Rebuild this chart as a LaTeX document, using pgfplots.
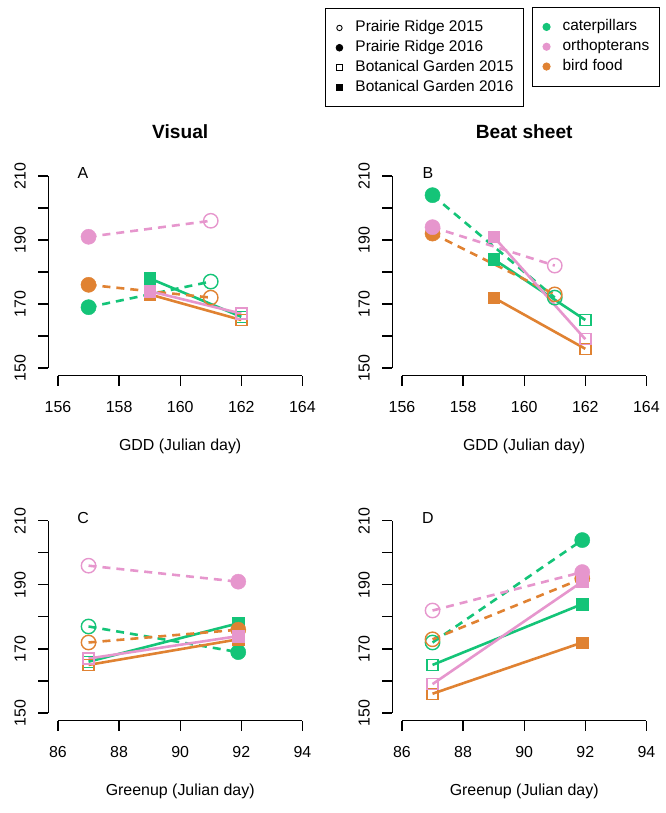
\documentclass[border=0pt]{standalone}
\usepackage{pgfplots}
\pgfplotsset{compat=1.18}
\usepackage{fontspec}
\setmainfont{Liberation Sans}
\definecolor{cat}{RGB}{20,196,120}
\definecolor{orth}{RGB}{230,150,205}
\definecolor{bird}{RGB}{224,130,50}

\newcommand{\fs}{\fontsize{16}{19}\selectfont}
\newcommand{\seg}[8]{%
  \addplot[#1, #2, line width=2.6bp, forget plot] coordinates {(#3,#4) (#6,#7)};
  \addplot[#1, only marks, #5, forget plot] coordinates {(#3,#4)};
  \addplot[#1, only marks, #8, forget plot] coordinates {(#6,#7)};
}

\pgfplotsset{
  mydash/.style={dash pattern=on 8bp off 6bp},
  pr16/.style={mark=*, mark size=7.6bp},
  pr15/.style={mark=o, mark size=7.2bp, mark options={line width=1.4bp}},
  bg16/.style={mark=square*, mark size=5.8bp},
  bg15/.style={mark=square, mark size=5.5bp, mark options={line width=1.4bp}},
  panel/.style={scale only axis, width=264bp, height=207.4bp, anchor=south west, clip=false,
    axis lines*=left, x axis line style={draw=none}, y axis line style={draw=none},
    ymin=147.6, ymax=212.4, ytick={150,160,...,210}, yticklabels={150,,170,,190,,210},
    tick align=outside, major tick length=10bp, tick style={black, line width=1.2bp},
    /pgf/number format/assume math mode=true,
    ticklabel style={font=\fs},
    yticklabel style={anchor=center, xshift=-18bp, rotate=90},
    xticklabel style={anchor=center, yshift=-21bp},
  },
  gdd/.style={xmin=155.68, xmax=164.32, xtick={156,158,...,164}},
  grn/.style={xmin=85.68, xmax=94.32, xtick={86,88,...,94}},
  leg/.style={hide axis, scale only axis, width=1bp, height=1bp, xmin=0, xmax=1, ymin=0, ymax=1,
    anchor=north west, legend cell align=left,
    legend style={at={(0,1)}, anchor=north west, draw=black, line width=0.9bp,
      inner xsep=10.5bp, inner ysep=12.5bp, row sep=5.8bp,
      font=\fontsize{15.5}{18}\selectfont,
      nodes={inner sep=0pt, text height=11bp, text depth=3bp}},
    legend image code/.code={\path[draw=none] (-3.5bp,0) -- (16bp,0); \draw[##1] plot coordinates {(0bp,0bp)};},
  },
}

\begin{document}
\begin{tikzpicture}
\path[use as bounding box] (0,0) rectangle (666bp,813bp);

% ---------- Panel A ----------
\begin{axis}[panel, gdd, at={(48.2bp,437.3bp)}]
\draw[line width=1.2bp] (axis cs:156,147.6) -- (axis cs:164,147.6);
\draw[line width=1.2bp] (axis cs:155.68,150) -- (axis cs:155.68,210);
\seg{cat}{mydash}{157}{169}{pr16}{161}{177}{pr15}
\seg{cat}{solid}{159}{178}{bg16}{162}{166}{bg15}
\seg{bird}{mydash}{157}{176}{pr16}{161}{172}{pr15}
\seg{bird}{solid}{159}{173}{bg16}{162}{165}{bg15}
\seg{orth}{mydash}{157}{191}{pr16}{161}{196}{pr15}
\seg{orth}{solid}{159}{174}{bg16}{162}{167}{bg15}
\node[font=\fs] at (axis cs:156.82,211) {A};
\node[font=\bfseries\fontsize{19.2}{23}\selectfont, yshift=36.3bp] at (rel axis cs:0.5,1) {Visual};
\node[font=\fs, yshift=-71bp] at (rel axis cs:0.5,0) {GDD (Julian day)};
\end{axis}

% ---------- Panel B ----------
\begin{axis}[panel, gdd, at={(392.2bp,437.3bp)}]
\draw[line width=1.2bp] (axis cs:156,147.6) -- (axis cs:164,147.6);
\draw[line width=1.2bp] (axis cs:155.68,150) -- (axis cs:155.68,210);
\seg{cat}{mydash}{157}{204}{pr16}{161}{172}{pr15}
\seg{cat}{solid}{159}{184}{bg16}{162}{165}{bg15}
\seg{bird}{mydash}{157}{192}{pr16}{161}{173}{pr15}
\seg{bird}{solid}{159}{172}{bg16}{162}{156}{bg15}
\seg{orth}{mydash}{157}{194}{pr16}{161}{182}{pr15}
\seg{orth}{solid}{159}{191}{bg16}{162}{159}{bg15}
\node[font=\fs] at (axis cs:156.85,211) {B};
\node[font=\bfseries\fontsize{19.2}{23}\selectfont, yshift=36.3bp] at (rel axis cs:0.5,1) {Beat sheet};
\node[font=\fs, yshift=-71bp] at (rel axis cs:0.5,0) {GDD (Julian day)};
\end{axis}

% ---------- Panel C ----------
\begin{axis}[panel, grn, at={(48.2bp,92.4bp)}]
\draw[line width=1.2bp] (axis cs:86,147.6) -- (axis cs:94,147.6);
\draw[line width=1.2bp] (axis cs:85.68,150) -- (axis cs:85.68,210);
\seg{cat}{mydash}{87}{177}{pr15}{91.9}{169}{pr16}
\seg{cat}{solid}{87}{166}{bg15}{91.9}{178}{bg16}
\seg{bird}{mydash}{87}{172}{pr15}{91.9}{176}{pr16}
\seg{bird}{solid}{87}{165}{bg15}{91.9}{173}{bg16}
\seg{orth}{mydash}{87}{196}{pr15}{91.9}{191}{pr16}
\seg{orth}{solid}{87}{167}{bg15}{91.9}{174}{bg16}
\node[font=\fs] at (axis cs:86.82,211) {C};
\node[font=\fs, yshift=-71bp] at (rel axis cs:0.5,0) {Greenup (Julian day)};
\end{axis}

% ---------- Panel D ----------
\begin{axis}[panel, grn, at={(392.2bp,92.4bp)}]
\draw[line width=1.2bp] (axis cs:86,147.6) -- (axis cs:94,147.6);
\draw[line width=1.2bp] (axis cs:85.68,150) -- (axis cs:85.68,210);
\seg{cat}{mydash}{87}{172}{pr15}{91.9}{204}{pr16}
\seg{cat}{solid}{87}{165}{bg15}{91.9}{184}{bg16}
\seg{bird}{mydash}{87}{173}{pr15}{91.9}{192}{pr16}
\seg{bird}{solid}{87}{156}{bg15}{91.9}{172}{bg16}
\seg{orth}{mydash}{87}{182}{pr15}{91.9}{194}{pr16}
\seg{orth}{solid}{87}{159}{bg15}{91.9}{191}{bg16}
\node[font=\fs] at (axis cs:86.85,211) {D};
\node[font=\fs, yshift=-71bp] at (rel axis cs:0.5,0) {Greenup (Julian day)};
\end{axis}

% ---------- Legends ----------
\begin{axis}[leg, at={(325bp,805bp)}]
\addlegendimage{black, mark=o, mark size=2.7bp, mark options={line width=0.9bp}}
\addlegendentry{Prairie Ridge 2015}
\addlegendimage{black, mark=*, mark size=3.3bp}
\addlegendentry{Prairie Ridge 2016}
\addlegendimage{black, mark=square, mark size=2.7bp, mark options={line width=0.9bp}}
\addlegendentry{Botanical Garden 2015}
\addlegendimage{black, mark=square*, mark size=3.3bp}
\addlegendentry{Botanical Garden 2016}
\end{axis}

\begin{axis}[leg, at={(532bp,806bp)}]
\addlegendimage{cat, mark=*, mark size=3.6bp}
\addlegendentry{caterpillars}
\addlegendimage{orth, mark=*, mark size=3.6bp}
\addlegendentry{orthopterans}
\addlegendimage{bird, mark=*, mark size=3.6bp}
\addlegendentry{bird food}
\end{axis}
\end{tikzpicture}
\end{document}
